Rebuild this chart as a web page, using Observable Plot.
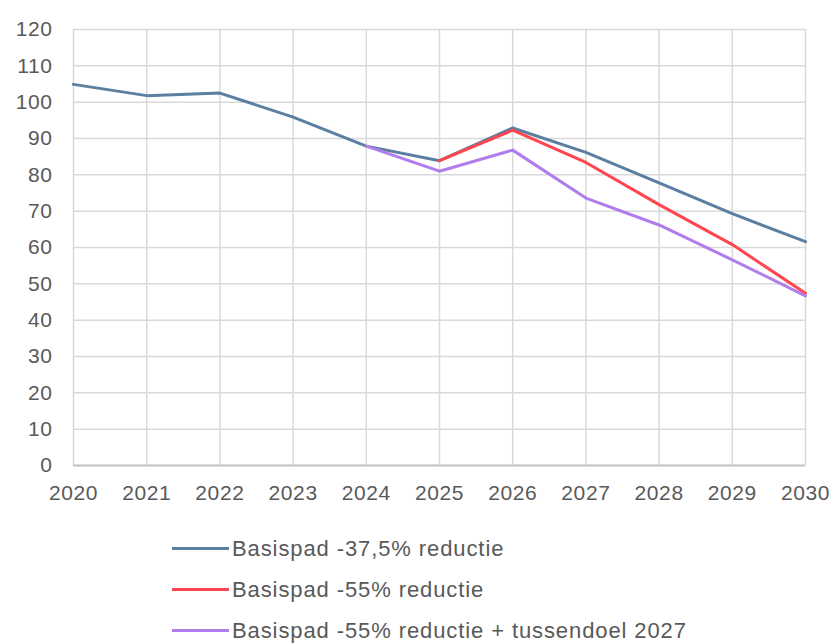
<!DOCTYPE html>
<html>
<head>
<meta charset="utf-8">
<script src="https://cdn.jsdelivr.net/npm/d3@7"></script>
<script src="https://cdn.jsdelivr.net/npm/@observablehq/plot@0.6"></script>
<style>
  html, body { margin: 0; padding: 0; background: #fff; }
  body { width: 832px; height: 643px; overflow: hidden; font-family: "Liberation Sans", Arial, sans-serif; }
  #chart svg { display: block; }
  #legend { position: absolute; left: 172px; top: 528px; }
  .item { display: flex; align-items: center; height: 41px; font-size: 22px; color: #595959; letter-spacing: 0.9px; }
  .sw { width: 57px; height: 3px; margin-right: 3px; }
</style>
</head>
<body>
<div id="chart"></div>
<div id="legend"></div>
<script>
const years = [2020, 2021, 2022, 2023, 2024, 2025, 2026, 2027, 2028, 2029, 2030];
const seriesNames = [
  "Basispad -37,5% reductie",
  "Basispad -55% reductie",
  "Basispad -55% reductie + tussendoel 2027"
];
// null = series not drawn (coincides with the base path there)
const blueValues   = [104.9, 101.8, 102.5, 95.9, 87.9, 83.9, 92.9, 86.2, 77.8, 69.3, 61.6];
const redValues    = [null, null, null, null, null, 83.9, 92.3, 83.4, 71.8, 60.8, 47.4];
const purpleValues = [null, null, null, null, 87.9, 81.0, 86.8, 73.6, 66.2, 56.6, 46.7];
const colors = ["#5b7fa1", "#ff4550", "#b17cec"];
const yTicks = [0, 10, 20, 30, 40, 50, 60, 70, 80, 90, 100, 110, 120];

const allValues = [blueValues, redValues, purpleValues];
const data = [];
allValues.forEach((vals, si) => {
  vals.forEach((v, i) => { if (v !== null) data.push({ year: years[i], value: v, series: seriesNames[si] }); });
});

const chart = Plot.plot({
  width: 832,
  height: 515,
  marginLeft: 73,
  marginRight: 27,
  marginTop: 29,
  marginBottom: 50,
  style: { fontFamily: "Liberation Sans, Arial, sans-serif", fontSize: "21px", color: "#595959", background: "#fff" },
  x: { domain: [2020, 2030], ticks: years, tickFormat: "d", label: null, tickSize: 0, tickPadding: 20 },
  y: { domain: [0, 120], ticks: yTicks, label: null, tickSize: 0, tickPadding: 21 },
  color: { domain: seriesNames, range: colors },
  marks: [
    Plot.gridX(years, { stroke: "#d9d9d9", strokeOpacity: 1, strokeWidth: 1.5 }),
    Plot.gridY(yTicks, { stroke: "#d9d9d9", strokeOpacity: 1, strokeWidth: 1.5 }),
    Plot.ruleY([0], { stroke: "#c4c4c4", strokeWidth: 2 }),
    Plot.line(data, { x: "year", y: "value", stroke: "series", z: "series", strokeWidth: 3 })
  ]
});
chart.querySelectorAll("text").forEach(t => t.setAttribute("letter-spacing", "0.6"));
document.getElementById("chart").appendChild(chart);

const legend = document.getElementById("legend");
seriesNames.forEach((name, i) => {
  const row = document.createElement("div");
  row.className = "item";
  const sw = document.createElement("div");
  sw.className = "sw";
  sw.style.background = colors[i];
  row.appendChild(sw);
  const label = document.createElement("span");
  label.textContent = name;
  row.appendChild(label);
  legend.appendChild(row);
});
</script>
</body>
</html>
